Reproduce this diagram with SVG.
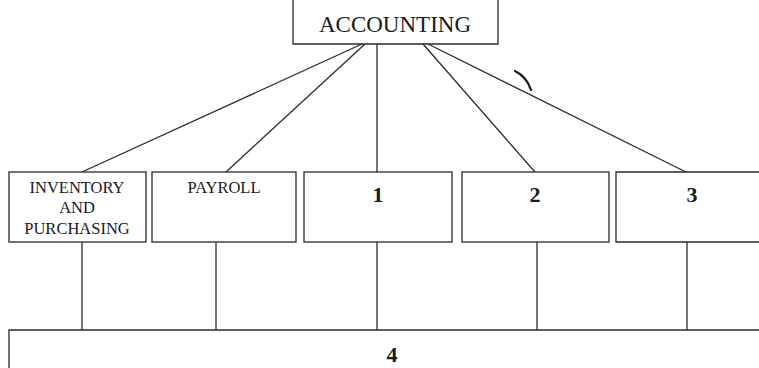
<svg xmlns="http://www.w3.org/2000/svg" width="759" height="368" viewBox="0 0 759 368">
<style>
.box{fill:#fff;stroke:#2a2a2a;stroke-width:1.3}
.ln{stroke:#2a2a2a;stroke-width:1.3;fill:none}
.t{font-family:"Liberation Serif","Times New Roman",serif;fill:#1a1a1a;text-anchor:middle}
.sm{font-size:16.5px}
.num{font-size:22px;font-weight:bold}
</style>
<rect width="759" height="368" fill="#fff"/>
<g id="connectors">
<line class="ln" x1="362" y1="44" x2="82" y2="172"/>
<line class="ln" x1="365" y1="44" x2="226" y2="172"/>
<line class="ln" x1="377" y1="44" x2="377" y2="172"/>
<line class="ln" x1="423" y1="44" x2="535" y2="172"/>
<line class="ln" x1="428" y1="44" x2="686" y2="172"/>
<line class="ln" x1="82" y1="242" x2="82" y2="330"/>
<line class="ln" x1="216" y1="242" x2="216" y2="330"/>
<line class="ln" x1="377" y1="242" x2="377" y2="330"/>
<line class="ln" x1="537" y1="242" x2="537" y2="330"/>
<line class="ln" x1="687" y1="242" x2="687" y2="330"/>
</g>
<g id="accounting">
<path class="box" d="M293,-2 V44 H498 V-2"/>
<text class="t" x="395" y="32" font-size="23">ACCOUNTING</text>
</g>
<g id="inventory">
<rect class="box" x="9" y="172" width="137" height="70"/>
<text class="t sm" x="77" y="193">INVENTORY</text>
<text class="t sm" x="77" y="213">AND</text>
<text class="t sm" x="77" y="234">PURCHASING</text>
</g>
<g id="payroll">
<rect class="box" x="152" y="172" width="144" height="70"/>
<text class="t sm" x="224" y="193">PAYROLL</text>
</g>
<g id="n1">
<rect class="box" x="304" y="172" width="148" height="70"/>
<text class="t num" x="378" y="202">1</text>
</g>
<g id="n2">
<rect class="box" x="462" y="172" width="147" height="70"/>
<text class="t num" x="535" y="202">2</text>
</g>
<g id="n3">
<path class="box" d="M762,172 H616 V242 H762"/>
<text class="t num" x="692" y="202">3</text>
</g>
<g id="n4">
<path class="box" d="M9,372 V330 H762"/>
<text class="t num" x="392" y="362">4</text>
</g>
<path d="M515,71 Q527,77 531,90" stroke="#1a1a1a" stroke-width="2.2" fill="none" stroke-linecap="round"/>
</svg>
